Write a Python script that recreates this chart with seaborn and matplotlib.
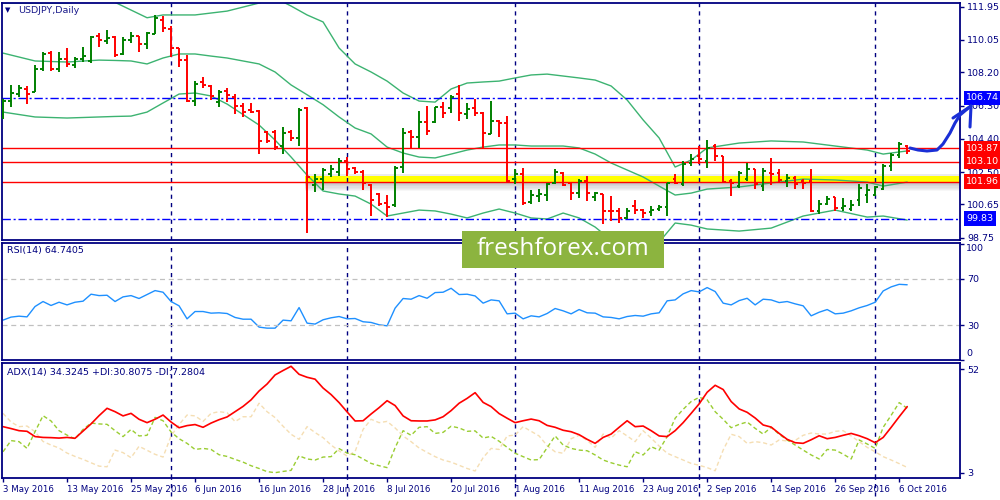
import numpy as np
import pandas as pd
import matplotlib
matplotlib.use("Agg")
import matplotlib.pyplot as plt
import matplotlib.transforms as mtransforms
from matplotlib.lines import Line2D
from matplotlib.patches import Rectangle
import seaborn as sns

# USDJPY daily bars, 3 May 2016 .. 7 Oct 2016 (bar index 0..113)
opens = [105.95, 106.55, 106.95, 107.25, 107.1, 108.4, 109.3, 108.4, 108.95, 108.6,
         108.95, 108.85, 110.3, 110.0, 110.2, 109.25, 110.05, 110.25, 109.8, 110.4,
         111.2, 110.7, 109.6, 108.9, 106.55, 107.65, 107.4, 106.5, 107.15, 106.8,
         106.3, 106.05, 106.0, 104.8, 104.8, 104.0, 104.8, 104.45, 106.15, 101.75,
         102.1, 102.4, 102.5, 103.15, 102.75, 102.5, 101.75, 101.25, 100.75, 100.6,
         102.8, 104.8, 104.5, 105.35, 105.35, 106.2, 106.15, 106.95, 105.8, 106.15,
         105.9, 104.7, 105.4, 105.3, 102.1, 102.4, 100.8, 101.15, 101.2, 101.9,
         102.45, 101.85, 101.3, 102.0, 101.08, 101.26, 100.3, 100.28, 99.88, 100.57,
         100.34, 100.22, 100.4, 100.51, 102.12, 101.83, 103.04, 103.44, 103.16, 104.02,
         103.44, 102.0, 101.72, 102.12, 102.69, 101.72, 102.46, 102.46, 102.0, 102.18,
         102.0, 102.0, 100.28, 100.68, 101.08, 100.46, 100.4, 100.9, 101.2, 101.2,
         101.55, 102.87, 103.45, 104.02]
highs = [106.66, 107.45, 107.5, 107.4, 108.6, 109.35, 109.4, 109.35, 109.6, 109.07,
         109.65, 110.3, 110.45, 110.6, 110.25, 110.2, 110.5, 110.3, 110.5, 111.5,
         111.4, 110.86, 109.6, 109.2, 107.7, 107.95, 107.5, 107.2, 107.3, 106.95,
         106.45, 106.45, 106.05, 104.85, 104.9, 105.05, 104.9, 106.15, 106.2, 102.4,
         102.75, 102.9, 103.3, 103.35, 102.8, 102.6, 101.8, 101.3, 101.2, 102.85,
         105.0, 104.9, 106.0, 106.3, 106.2, 106.5, 106.9, 107.5, 106.45, 106.7,
         105.95, 106.55, 105.5, 105.7, 102.7, 102.75, 101.5, 101.55, 101.9, 102.7,
         102.5, 101.9, 102.1, 102.25, 101.37, 101.26, 101.14, 100.45, 100.45, 100.91,
         100.4, 100.57, 100.63, 101.89, 102.41, 103.16, 103.56, 104.02, 104.31, 104.13,
         103.44, 102.12, 102.58, 103.04, 102.7, 102.75, 103.33, 102.7, 102.4, 102.29,
         102.12, 102.69, 100.91, 101.14, 101.1, 101.03, 100.9, 101.83, 101.83, 101.72,
         102.98, 103.62, 104.2, 104.05]
lows = [105.51, 106.2, 106.8, 106.4, 107.1, 108.3, 108.3, 108.2, 108.5, 108.45,
        108.8, 108.75, 109.65, 109.8, 109.1, 109.2, 109.9, 109.35, 109.55, 110.4,
        110.5, 109.1, 108.5, 106.5, 106.3, 107.3, 106.6, 106.2, 106.5, 105.8,
        105.65, 105.85, 103.55, 104.15, 103.75, 103.55, 104.3, 104.0, 99.0, 101.35,
        101.5, 102.2, 102.3, 102.3, 102.4, 101.45, 100.0, 100.55, 99.95, 100.5,
        102.45, 103.9, 103.9, 104.6, 105.3, 105.6, 105.9, 105.4, 105.55, 105.7,
        103.85, 104.65, 104.5, 101.95, 101.8, 100.6, 100.7, 100.8, 100.85, 101.8,
        101.7, 100.9, 101.0, 100.85, 100.86, 99.54, 99.71, 99.6, 99.82, 100.11,
        99.88, 99.99, 100.28, 99.99, 101.83, 101.72, 102.87, 102.98, 102.75, 103.16,
        101.89, 101.14, 101.6, 102.01, 101.55, 101.43, 101.78, 101.89, 101.66, 101.55,
        101.55, 100.2, 100.11, 100.63, 100.28, 100.28, 100.28, 100.57, 100.74, 101.14,
        101.5, 102.58, 103.33, 103.56]
closes = [106.55, 107.0, 107.3, 106.95, 108.4, 109.25, 108.4, 108.95, 108.65, 108.95,
          109.15, 110.2, 110.05, 110.15, 109.2, 110.05, 110.3, 109.8, 110.45, 111.3,
          110.75, 109.6, 108.9, 106.55, 107.55, 107.45, 106.85, 107.1, 106.9, 106.3,
          105.95, 105.95, 104.3, 104.25, 103.95, 104.75, 104.45, 106.05, 102.2, 102.1,
          102.6, 102.7, 103.15, 102.7, 102.5, 101.9, 100.9, 100.7, 100.5, 102.75,
          104.75, 104.5, 105.35, 104.85, 106.2, 105.9, 106.8, 105.85, 106.1, 105.85,
          104.75, 105.4, 105.3, 102.0, 102.4, 100.75, 101.2, 101.25, 101.8, 102.5,
          101.75, 101.3, 102.0, 101.3, 101.3, 100.28, 100.25, 99.88, 100.28, 100.34,
          100.17, 100.34, 100.51, 101.89, 101.89, 102.98, 103.27, 103.27, 103.85, 103.44,
          101.95, 101.89, 102.46, 102.69, 101.83, 102.58, 102.4, 102.06, 102.18, 101.83,
          101.9, 100.28, 100.68, 100.97, 100.45, 100.57, 100.6, 101.6, 101.5, 101.66,
          102.87, 103.45, 104.13, 103.73]

# Bollinger bands at some bars
band_idx = [0, 4, 8, 12, 14, 16, 18, 20, 22, 24, 26, 28, 32, 34, 36, 38, 40, 42, 44, 46,
            48, 50, 52, 54, 56, 58, 60, 62, 64, 66, 68, 70, 72, 74, 76, 78, 80, 82, 84, 86,
            88, 92, 96, 100, 104, 108, 110, 113]
bb_upper = [112.16, 112.16, 112.16, 112.4, 112.2, 111.76, 111.32, 111.48, 111.48, 111.48,
            111.59, 111.7, 112.16, 112.45, 111.99, 111.48, 111.08, 109.59, 108.68, 108.22,
            107.7, 107.02, 106.56, 106.5, 107.25, 107.59, 107.65, 107.7, 107.88, 108.05,
            108.1, 107.99, 107.88, 107.76, 107.42, 106.62, 105.48, 104.45, 102.79, 103.19,
            103.88, 104.16, 104.28, 104.22, 103.99, 103.76, 103.53, 103.71]
bb_mid = [109.3, 108.85, 108.79, 108.9, 108.88, 108.85, 108.68, 109.02, 109.25, 109.25,
          109.13, 109.02, 108.68, 108.22, 107.48, 106.92, 106.35, 105.65, 105.02, 104.68,
          103.93, 103.59, 103.36, 103.31, 103.53, 103.76, 103.93, 104.05, 104.05, 103.99,
          103.99, 103.99, 103.88, 103.53, 103.02, 102.62, 102.22, 101.7, 101.19, 101.3,
          101.53, 101.65, 101.88, 102.1, 102.05, 101.93, 101.7, 101.93]
bb_lower = [105.93, 105.65, 105.59, 105.65, 105.68, 105.7, 105.93, 106.45, 106.96, 107.02,
            106.85, 106.39, 105.19, 104.33, 103.36, 102.33, 101.42, 101.25, 101.13, 100.67,
            99.99, 100.16, 100.33, 100.28, 100.1, 99.88, 100.16, 100.39, 100.16, 99.88,
            99.82, 100.16, 99.88, 99.36, 98.62, 98.16, 97.93, 98.5, 99.59, 99.47,
            99.25, 99.13, 99.3, 99.99, 100.33, 99.93, 99.99, 99.76]

rsi = [34.3, 36.9, 37.7, 37.1, 46.0, 50.3, 46.9, 49.7, 47.4, 49.7,
       50.6, 56.6, 55.4, 55.7, 50.3, 54.3, 55.4, 52.9, 56.3, 59.7,
       58.3, 50.3, 46.6, 35.4, 41.7, 41.7, 40.3, 40.6, 40.0, 36.6,
       35.1, 35.1, 28.3, 27.4, 27.4, 34.3, 33.7, 45.1, 31.7, 30.9,
       34.6, 36.3, 37.4, 35.4, 35.7, 32.9, 32.3, 30.3, 29.4, 44.6,
       52.9, 52.3, 55.4, 53.1, 58.0, 58.3, 61.7, 56.3, 56.6, 55.1,
       48.9, 51.7, 50.9, 39.7, 40.3, 35.4, 38.0, 37.1, 40.0, 44.3,
       42.3, 39.7, 43.4, 40.6, 40.3, 37.1, 36.6, 35.4, 37.4, 38.3,
       37.7, 39.7, 40.6, 50.9, 51.7, 56.9, 59.7, 58.6, 62.3, 58.9,
       48.9, 47.4, 51.1, 53.1, 47.4, 52.3, 51.7, 49.4, 50.3, 48.3,
       46.6, 38.0, 41.1, 43.4, 39.7, 40.3, 42.3, 44.9, 46.9, 49.7,
       59.4, 62.9, 65.1, 64.7]

adx = [24.8, 23.9, 22.9, 22.6, 20.1, 19.7, 19.6, 19.4, 19.7, 19.3,
       22.7, 26.1, 30.0, 33.5, 31.9, 29.9, 31.1, 28.3, 26.7, 28.3,
       30.3, 27.0, 24.3, 25.3, 25.8, 24.5, 26.5, 28.1, 29.4, 31.9,
       34.4, 37.5, 41.7, 45.0, 49.3, 51.4, 53.4, 49.6, 48.2, 47.3,
       43.1, 40.0, 36.2, 31.8, 27.5, 27.6, 30.8, 33.8, 37.1, 34.8,
       29.9, 27.6, 27.5, 27.5, 28.0, 29.5, 32.4, 35.9, 38.2, 40.9,
       36.3, 34.3, 31.0, 28.8, 26.7, 27.6, 28.4, 27.6, 25.4, 24.5,
       23.1, 22.4, 21.0, 18.8, 16.9, 19.7, 21.3, 24.5, 27.6, 24.8,
       25.1, 22.9, 20.4, 20.1, 22.9, 26.7, 31.1, 35.6, 41.1, 44.4,
       42.4, 36.7, 33.2, 31.6, 28.9, 25.6, 24.6, 21.6, 18.8, 17.2,
       16.9, 18.6, 20.5, 19.1, 19.7, 20.7, 21.6, 20.5, 19.1, 17.2,
       19.7, 24.5, 29.5, 34.3]
plus_di = [12.9, 18.2, 17.7, 14.5, 22.4, 30.0, 27.5, 22.9, 20.8, 19.0,
           23.5, 26.5, 26.1, 25.9, 22.9, 20.1, 23.5, 20.4, 20.7, 29.2,
           27.6, 22.3, 19.1, 16.9, 14.0, 14.5, 14.0, 11.5, 10.7, 9.3,
           8.0, 6.3, 5.0, 3.5, 3.0, 3.6, 4.1, 11.0, 9.5, 9.0,
           10.4, 10.6, 14.4, 12.3, 11.5, 9.5, 7.4, 6.3, 5.4, 14.8,
           22.9, 20.7, 24.5, 24.8, 21.6, 22.1, 25.0, 24.2, 22.6, 22.8,
           19.4, 20.2, 17.9, 15.0, 12.2, 10.6, 9.0, 9.2, 14.8, 20.4,
           16.1, 14.5, 13.7, 13.4, 11.4, 9.0, 7.7, 6.6, 5.8, 12.9,
           11.4, 15.3, 13.7, 20.1, 28.8, 33.0, 36.7, 38.7, 37.5, 31.9,
           28.3, 24.3, 25.9, 27.0, 24.0, 21.3, 24.5, 21.2, 18.5, 16.1,
           13.7, 11.4, 9.5, 14.0, 13.7, 11.8, 9.5, 18.5, 16.6, 14.5,
           24.5, 30.2, 36.2, 33.5]
minus_di = [31.1, 27.0, 24.8, 25.1, 22.4, 17.8, 16.1, 14.7, 12.3, 10.7,
            9.3, 7.7, 6.1, 5.8, 13.7, 12.5, 10.1, 15.5, 13.6, 11.7,
            10.4, 20.4, 25.8, 30.3, 29.9, 27.3, 31.1, 31.9, 31.4, 27.2,
            29.5, 29.5, 35.9, 31.9, 29.1, 25.0, 21.2, 18.8, 24.8, 22.0,
            19.6, 16.1, 13.3, 10.9, 13.0, 23.5, 28.3, 26.7, 27.3, 24.2,
            20.4, 17.7, 14.7, 12.6, 10.6, 9.0, 8.0, 6.5, 5.0, 3.8,
            10.1, 14.5, 14.0, 20.4, 20.8, 24.8, 22.6, 20.4, 15.8, 12.9,
            12.2, 19.1, 20.7, 18.3, 15.0, 21.3, 19.4, 22.9, 20.4, 17.7,
            22.9, 19.4, 15.6, 12.2, 10.6, 9.0, 7.4, 6.5, 5.4, 3.9,
            13.7, 21.2, 20.1, 16.9, 17.7, 17.2, 16.1, 18.5, 18.0, 18.3,
            20.7, 21.8, 21.3, 21.3, 22.6, 22.9, 20.4, 17.7, 15.0, 12.9,
            10.6, 9.0, 7.3, 5.5]

tick_labels = ["3 May 2016", "13 May 2016", "25 May 2016", "6 Jun 2016", "16 Jun 2016",
               "28 Jun 2016", "8 Jul 2016", "20 Jul 2016", "1 Aug 2016", "11 Aug 2016",
               "23 Aug 2016", "2 Sep 2016", "14 Sep 2016", "26 Sep 2016", "6 Oct 2016"]
tick_bars = list(range(0, 113, 8))
month_bars = [21, 43, 64, 87, 109]   # first bar of Jun, Jul, Aug, Sep, Oct

price_ticks = [111.95, 110.05, 108.20, 106.30, 104.40, 102.50, 100.65, 98.75]
red_levels = [103.87, 103.10, 101.96]
blue_levels = [106.74, 99.83]
brexit_bar = 38

NAVY = "#000080"
GREEN = "#008000"
RED = "#ff0000"
BAND = "#3cb371"

sns.set_style("white")
plt.rcParams["font.family"] = ["DejaVu Sans"]

df = pd.DataFrame({"open": opens, "high": highs, "low": lows, "close": closes})
df["bar"] = np.arange(len(df))
bar_colors = np.where(df["close"] >= df["open"], GREEN, RED)

fig = plt.figure(figsize=(10, 5), dpi=100)
ax_p = fig.add_axes([0.0023, 0.52, 0.9577, 0.4746])
ax_r = fig.add_axes([0.0023, 0.28, 0.9577, 0.2346])
ax_a = fig.add_axes([0.0023, 0.0434, 0.9577, 0.2312])

# ---- price panel
x_right = 119.6
ax_p.fill_between([brexit_bar - 0.2, x_right], 101.96, 102.3, color="#ffff00", zorder=1, lw=0)
for k in range(8):
    top = 101.96 - k * 0.07
    ax_p.fill_between([brexit_bar - 0.2, x_right], top - 0.07, top, color="#707070",
                      alpha=0.45 * (1 - k / 8), zorder=1, lw=0)
ax_p.fill_between([brexit_bar - 0.2, x_right], 102.3, 102.42, color="#b0b0b0", alpha=0.25,
                  zorder=1, lw=0)

for vals in [bb_upper, bb_mid, bb_lower]:
    sns.lineplot(x=band_idx, y=vals, ax=ax_p, color=BAND, lw=1, sort=False, zorder=2)

for lv in red_levels:
    ax_p.axhline(lv, color=RED, lw=1, zorder=2.5)
for lv in blue_levels:
    ax_p.axhline(lv, color="#0000ff", lw=1, ls=(0, (6, 2, 1.5, 2)), zorder=2.5)

ax_p.vlines(df["bar"], df["low"], df["high"], colors=bar_colors, lw=1.4, zorder=3)
ax_p.hlines(df["open"], df["bar"] - 0.33, df["bar"], colors=bar_colors, lw=1.4, zorder=3)
ax_p.hlines(df["close"], df["bar"], df["bar"] + 0.33, colors=bar_colors, lw=1.4, zorder=3)

ax_p.set_ylim(98.62, 112.18)
ax_p.yaxis.tick_right()
ax_p.set_yticks(price_ticks)
ax_p.set_yticklabels([f"{v:.2f}" for v in price_ticks])

trans = mtransforms.blended_transform_factory(ax_p.transAxes, ax_p.transData)
for lv, fc in [(106.74, "#0000ff"), (103.87, RED), (103.10, RED), (101.96, RED), (99.83, "#0000ff")]:
    ax_p.text(1.0067, lv, f"{lv:.2f}", transform=trans, ha="left", va="center", color="white",
              fontsize=6.8, zorder=5, clip_on=False,
              bbox=dict(boxstyle="square,pad=0.3", fc=fc, ec="none"))

# ---- RSI panel
sns.lineplot(x=df["bar"], y=rsi, ax=ax_r, color="#1e90ff", lw=1, sort=False)
for lv in [70, 30]:
    ax_r.axhline(lv, color="#c0c0c0", lw=0.9, ls=(0, (4, 3)))
ax_r.set_ylim(0.2, 100.9)
ax_r.yaxis.tick_right()
ax_r.set_yticks([0, 30, 70, 100])
ax_r.set_yticklabels(["", "30", "70", ""])
rtrans = mtransforms.blended_transform_factory(ax_r.transAxes, ax_r.transData)
ax_r.text(1.0067, 95.5, "100", transform=rtrans, ha="left", va="center", color=NAVY,
          fontsize=6.8, clip_on=False)
ax_r.text(1.0067, 5.8, "0", transform=rtrans, ha="left", va="center", color=NAVY,
          fontsize=6.8, clip_on=False)

# ---- ADX panel
sns.lineplot(x=df["bar"], y=minus_di, ax=ax_a, color="#f5deb3", lw=1, sort=False,
             linestyle=(0, (3, 2)))
sns.lineplot(x=df["bar"], y=plus_di, ax=ax_a, color="#9acd32", lw=1, sort=False,
             linestyle=(0, (3, 2)))
sns.lineplot(x=df["bar"], y=adx, ax=ax_a, color=RED, lw=1.2, sort=False)
ax_a.set_ylim(0.34, 55.1)
ax_a.yaxis.tick_right()
ax_a.set_yticks([52, 3])
ax_a.set_yticklabels(["52", "3"])
ax_a.set_xticks(tick_bars)
ax_a.set_xticklabels(tick_labels, ha="left")

for ax in [ax_p, ax_r, ax_a]:
    ax.set_xlim(-0.09, x_right)
    ax.set_xlabel("")
    ax.set_ylabel("")
    for sp in ax.spines.values():
        sp.set_color(NAVY)
        sp.set_linewidth(1.3)
    ax.tick_params(axis="y", which="both", right=True, left=False, length=3, width=1,
                   color=NAVY, labelcolor=NAVY, labelsize=6.8, pad=2)
    for m in month_bars:
        ax.axvline(m, color=NAVY, lw=1, ls=(0, (3, 3)), zorder=1.5)
    if ax is not ax_a:
        ax.set_xticks([])

ax_a.tick_params(axis="x", bottom=True, length=3, width=1, color=NAVY, labelcolor=NAVY,
                 labelsize=6.2, pad=2)
for m in month_bars:
    ax_a.axvline(m, ymin=-0.15, ymax=0, color=NAVY, lw=1, ls=(0, (3, 3)), clip_on=False)

# ---- panel captions
def fx(x):
    return x / 1000


def fy(y):
    return 1 - y / 500


fig.text(fx(5), fy(10.5), "\u25bc", fontsize=5, color=NAVY, va="center")
fig.text(fx(18), fy(10.5), "USDJPY,Daily", fontsize=6.8, color="#1c1c8c", va="center")
fig.text(fx(7), fy(251), "RSI(14) 64.7405", fontsize=6.8, color=NAVY, va="center")
fig.text(fx(7), fy(372), "ADX(14) 34.3245 +DI:30.8075 -DI:7.2804", fontsize=6.8,
         color=NAVY, va="center")

# hand-drawn target arrow
stroke = [(910, 148), (918, 150), (927, 151), (937, 150), (943, 144), (950, 133),
          (955, 123), (960, 115), (966, 110), (971, 106)]
head = [(953, 118), (971, 106), (970, 127)]
for path in [stroke, head]:
    fig.add_artist(Line2D([fx(p[0]) for p in path], [fy(p[1]) for p in path],
                          transform=fig.transFigure, color="#1a2fd6", lw=2.2,
                          solid_capstyle="round", solid_joinstyle="round", zorder=20))

# watermark
fig.add_artist(Rectangle((fx(462), fy(268)), 0.202, 37 / 500, transform=fig.transFigure,
                         fc="#8cb43f", ec="none", zorder=20))
fig.text(fx(563), fy(249), "freshforex.com", fontsize=17.5, color="white", ha="center",
         va="center", family=["Open Sans", "DejaVu Sans"], zorder=21)

fig.savefig("out.png", dpi=100, facecolor="white")
